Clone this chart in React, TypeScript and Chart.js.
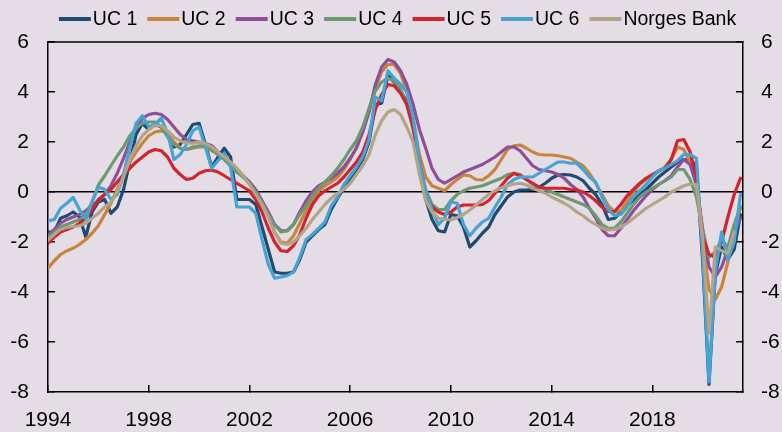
import React, { useEffect, useRef } from "react";
import { Chart, registerables } from "chart.js";

Chart.register(...registerables);

// ---------- data ----------
const START_YEAR = 1994; // first quarter 1994Q1, quarterly steps
const X_MIN = 1994;
const X_MAX = 2021.6;
const xTickYears = [1994, 1998, 2002, 2006, 2010, 2014, 2018];
const yTickValues = [-8, -6, -4, -2, 0, 2, 4, 6];

const seriesNames = ["UC 1", "UC 2", "UC 3", "UC 4", "UC 5", "UC 6", "Norges Bank"];
const seriesColors = ["#1f4b70", "#c8843c", "#8e4f98", "#6c9873", "#d2232f", "#45a3d6", "#b3a488"];

const uc1 = [
  -1.6, -1.6, -1.05, -0.95, -0.8, -1.0, -1.8, -0.8, -0.4, -0.3, -0.85, -0.6, 0.1, 1.2, 2.3, 2.75,
  2.5, 2.7, 2.6, 2.4, 1.8, 1.9, 2.3, 2.7, 2.75, 1.9, 1.0, 1.4, 1.75, 1.4, -0.3, -0.3,
  -0.3, -0.5, -1.4, -2.3, -3.2, -3.25, -3.25, -3.2, -2.7, -2.0, -1.75, -1.5, -1.3, -0.7, -0.25, 0.15,
  0.55, 0.9, 1.3, 2.0, 3.5, 3.55, 4.65, 4.4, 4.05, 3.6, 2.7, 0.9, -0.3, -1.1, -1.55, -1.6,
  -0.9, -0.95, -1.4, -2.2, -1.95, -1.65, -1.4, -0.9, -0.55, -0.2, 0.0, 0.08, 0.08, 0.1, 0.2, 0.35,
  0.55, 0.68, 0.7, 0.68, 0.6, 0.45, 0.15, -0.1, -0.5, -1.1, -1.05, -0.8, -0.55, -0.3, -0.1, 0.1,
  0.35, 0.6, 0.8, 1.0, 1.2, 1.3, 1.3, 1.05, -2.8, -7.7, -3.3, -2.2, -2.7, -2.3, -0.9,
];
const uc2 = [
  -3.05, -2.75, -2.5, -2.35, -2.25, -2.1, -1.9, -1.65, -1.35, -0.9, -0.45, 0.1, 0.7, 1.2, 1.6, 1.95,
  2.25, 2.4, 2.45, 2.35, 2.0, 1.75, 1.7, 1.75, 1.8, 1.8, 1.65, 1.5, 1.35, 1.05, 0.8, 0.6,
  0.4, 0.05, -0.35, -0.95, -1.6, -2.0, -2.05, -1.75, -1.25, -0.75, -0.3, 0.05, 0.25, 0.4, 0.6, 0.9,
  1.3, 1.8, 2.5, 3.3, 4.15, 4.8, 5.1, 5.1, 4.75, 4.0, 2.9, 1.5, 0.6, 0.25, 0.15, 0.05,
  0.3, 0.5, 0.68, 0.65, 0.5, 0.48, 0.65, 0.9, 1.3, 1.7, 1.85, 1.88, 1.75, 1.6, 1.5, 1.48,
  1.48, 1.45, 1.4, 1.35, 1.2, 1.05, 0.75, 0.35, -0.1, -0.55, -0.8, -0.75, -0.4, 0.0, 0.3, 0.5,
  0.65, 0.8, 1.0, 1.3, 1.8, 1.7, 1.2, 0.3, -2.0, -3.9, -4.3, -3.8, -2.8, -1.5, -0.6,
];
const uc3 = [
  -1.75, -1.5, -1.25, -1.1, -1.0, -0.9, -0.75, -0.55, -0.35, -0.1, 0.25, 0.75, 1.35, 2.0, 2.6, 2.95,
  3.1, 3.15, 3.1, 2.9, 2.6, 2.3, 2.1, 2.05, 2.0, 1.95, 1.85, 1.6, 1.35, 1.1, 0.9, 0.65,
  0.4, 0.1, -0.35, -0.8, -1.3, -1.55, -1.55, -1.3, -0.8, -0.35, 0.0, 0.25, 0.4, 0.55, 0.75, 1.0,
  1.35, 1.75, 2.4, 3.2, 4.3, 5.0, 5.3, 5.2, 4.85, 4.3, 3.5, 2.5, 1.75, 0.95, 0.5, 0.35,
  0.5, 0.65, 0.8, 0.9, 1.0, 1.1, 1.25, 1.4, 1.6, 1.8, 1.8, 1.65, 1.35, 1.05, 0.9, 0.85,
  0.8, 0.7, 0.55, 0.3, 0.1, -0.2, -0.65, -1.05, -1.5, -1.75, -1.75, -1.45, -1.1, -0.75, -0.45, -0.15,
  0.1, 0.3, 0.45, 0.65, 1.0, 1.3, 1.1, 0.3, -1.5, -3.0, -3.4, -3.0, -2.3, -1.6, -1.05,
];
const uc4 = [
  -1.85, -1.6, -1.4, -1.3, -1.2, -1.1, -0.9, -0.4, 0.28, 0.65, 1.05, 1.45, 1.8, 2.25, 2.55, 2.75,
  2.8, 2.8, 2.6, 2.2, 1.9, 1.75, 1.7, 1.8, 1.85, 1.85, 1.7, 1.5, 1.3, 1.05, 0.8, 0.6,
  0.35, 0.0, -0.4, -0.9, -1.3, -1.6, -1.55, -1.3, -0.9, -0.55, -0.15, 0.15, 0.4, 0.65, 0.95, 1.3,
  1.7, 2.05, 2.6, 3.35, 4.05, 4.4, 4.55, 4.45, 4.1, 3.5, 2.5, 1.2, 0.1, -0.5, -0.7, -0.7,
  -0.35, -0.1, 0.05, 0.15, 0.2, 0.25, 0.35, 0.45, 0.55, 0.7, 0.75, 0.7, 0.5, 0.3, 0.2, 0.1,
  0.0, -0.1, -0.2, -0.3, -0.4, -0.5, -0.65, -0.95, -1.3, -1.45, -1.45, -1.2, -0.85, -0.5, -0.2, 0.0,
  0.15, 0.3, 0.45, 0.6, 0.9, 0.9, 0.5, -0.2, -1.5, -2.6, -2.4, -1.9, -2.2, -1.3, -0.6,
];
const uc5 = [
  -2.05, -1.8, -1.6, -1.5, -1.4, -1.25, -1.05, -0.7, -0.3, -0.1, 0.1, 0.4, 0.7, 0.95, 1.2, 1.4,
  1.6, 1.7, 1.65, 1.4, 0.95, 0.7, 0.5, 0.55, 0.75, 0.85, 0.88, 0.8, 0.65, 0.5, 0.35, 0.2,
  0.05, -0.3, -0.8, -1.45, -2.0, -2.35, -2.38, -2.15, -1.7, -1.05, -0.5, -0.15, 0.05, 0.2, 0.35, 0.6,
  0.9, 1.2, 1.6, 2.3, 3.3, 3.9, 4.3, 4.25, 3.95, 3.5, 2.6, 1.2, -0.1, -0.6, -0.8, -0.9,
  -0.8, -0.6, -0.52, -0.52, -0.52, -0.5, -0.35, -0.05, 0.25, 0.55, 0.75, 0.65, 0.5, 0.35, 0.2, 0.15,
  0.15, 0.15, 0.15, 0.1, 0.08, 0.0, -0.15, -0.35, -0.6, -0.78, -0.78, -0.5, -0.15, 0.1, 0.35, 0.55,
  0.7, 0.85, 0.95, 1.3, 2.05, 2.1, 1.6, 0.6, -1.8, -2.5, -2.6, -2.0, -1.0, -0.1, 0.55,
];
const uc6 = [
  -1.16, -1.1, -0.65, -0.45, -0.22, -0.7, -1.1, -0.4, 0.2, 0.1, -0.3, -0.1, 0.7, 1.8, 2.75, 3.05,
  2.6, 2.7, 2.95, 2.35, 1.3, 1.5, 1.9, 2.45, 2.6, 1.8, 0.95, 1.25, 1.55, 1.0, -0.6, -0.6,
  -0.6, -0.85, -1.9, -2.9, -3.45, -3.4, -3.35, -3.2, -2.6, -1.9, -1.7, -1.45, -1.2, -0.55, -0.2, 0.3,
  0.65, 1.0, 1.4, 2.1, 3.8, 3.65, 4.85, 4.55, 4.3, 4.0, 3.0, 1.2, 0.0, -0.7, -1.3, -1.05,
  -0.4, -0.45, -1.3, -1.75, -1.45, -1.2, -1.05, -0.6, -0.2, 0.3, 0.5, 0.6, 0.6, 0.6, 0.75, 0.9,
  1.05, 1.2, 1.2, 1.15, 1.15, 0.9, 0.6, 0.4, -0.2, -0.7, -0.95, -0.9, -0.6, -0.2, 0.05, 0.3,
  0.6, 0.85, 0.95, 1.1, 1.25, 1.5, 1.5, 1.35, -2.5, -7.6, -3.2, -1.6, -2.7, -2.0, -0.1,
];
const norgesBank = [
  -1.92, -1.7, -1.5, -1.42, -1.38, -1.35, -1.25, -1.05, -0.85, -0.6, -0.4, 0.0, 0.6, 1.3, 1.85, 2.25,
  2.5, 2.65, 2.65, 2.45, 2.2, 2.05, 1.95, 1.95, 2.0, 1.95, 1.8, 1.6, 1.4, 1.2, 0.95, 0.65,
  0.3, -0.1, -0.5, -1.0, -1.65, -2.05, -2.1, -2.0, -1.75, -1.45, -1.1, -0.8, -0.5, -0.25, -0.05, 0.1,
  0.35, 0.7, 1.05, 1.5, 2.3, 2.85, 3.2, 3.3, 3.1, 2.6, 2.0, 0.7, -0.35, -0.8, -1.05, -1.1,
  -1.12, -1.02, -0.9, -0.72, -0.52, -0.3, -0.1, 0.05, 0.17, 0.25, 0.32, 0.35, 0.28, 0.15, 0.05, -0.05,
  -0.2, -0.32, -0.45, -0.6, -0.8, -0.95, -1.15, -1.3, -1.45, -1.52, -1.5, -1.4, -1.25, -1.05, -0.85, -0.65,
  -0.5, -0.35, -0.2, 0.0, 0.12, 0.25, 0.32, 0.3, -1.8, -5.65, -2.2, -2.35, -2.45, -1.6, null,
];

const seriesValues = [uc1, uc2, uc3, uc4, uc5, uc6, norgesBank];

// ---------- style ----------
const BG = "#e5dde5";
const FONT = "'Liberation Sans', Arial, Helvetica, sans-serif";
const TICK_FONT_SIZE = 21;
const LEGEND_FONT_SIZE = 19.5;

function toPoints(values: (number | null)[]) {
  return values.map((v, i) => ({ x: START_YEAR + i / 4, y: v }));
}

const backgroundPlugin = {
  id: "bgFill",
  beforeDraw(chart: any) {
    const { ctx, width, height } = chart;
    ctx.save();
    ctx.fillStyle = BG;
    ctx.fillRect(0, 0, width, height);
    ctx.restore();
  },
};

const framePlugin = {
  id: "topFrame",
  afterDraw(chart: any) {
    const { ctx, chartArea } = chart;
    ctx.save();
    ctx.strokeStyle = "#000";
    ctx.lineWidth = 1.5;
    ctx.beginPath();
    ctx.moveTo(chartArea.left, chartArea.top);
    ctx.lineTo(chartArea.right, chartArea.top);
    ctx.stroke();
    ctx.restore();
  },
};

const legendPlugin = {
  id: "topLegend",
  afterDraw(chart: any) {
    const { ctx, chartArea } = chart;
    ctx.save();
    ctx.font = `${LEGEND_FONT_SIZE}px ${FONT}`;
    const lineLen = 32;
    const textGap = 2;
    const itemGap = 10;
    const items = chart.data.datasets.map((ds: any) => ({
      label: ds.label as string,
      color: ds.borderColor as string,
      w: ctx.measureText(ds.label).width,
    }));
    const total =
      items.reduce((s: number, it: any) => s + lineLen + textGap + it.w, 0) + itemGap * (items.length - 1);
    let x = (chartArea.left + chartArea.right) / 2 + 2 - total / 2;
    const lineY = 19;
    const baseY = 24.5;
    for (const it of items) {
      ctx.strokeStyle = it.color;
      ctx.lineWidth = 4;
      ctx.lineCap = "butt";
      ctx.beginPath();
      ctx.moveTo(x, lineY);
      ctx.lineTo(x + lineLen, lineY);
      ctx.stroke();
      ctx.fillStyle = "#000";
      ctx.textBaseline = "alphabetic";
      ctx.textAlign = "left";
      ctx.fillText(it.label, x + lineLen + textGap, baseY);
      x += lineLen + textGap + it.w + itemGap;
    }
    ctx.restore();
  },
};

export default function App() {
  const canvasRef = useRef<HTMLCanvasElement | null>(null);

  useEffect(() => {
    document.body.style.margin = "0";
    document.body.style.background = BG;
    const canvas = canvasRef.current;
    if (!canvas) return;

    const datasets = seriesValues.map((vals, i) => ({
      label: seriesNames[i],
      data: toPoints(vals),
      borderColor: seriesColors[i],
      backgroundColor: seriesColors[i],
      borderWidth: 3.2,
      pointRadius: 0,
      tension: 0,
      borderJoinStyle: "round" as const,
      borderCapStyle: "round" as const,
      spanGaps: false,
      yAxisID: "y",
      xAxisID: "x",
      order: seriesValues.length - i,
    }));

    const tickFont = { family: FONT, size: TICK_FONT_SIZE };

    const chart = new Chart(canvas, {
      type: "line",
      data: { datasets },
      plugins: [backgroundPlugin, framePlugin, legendPlugin],
      options: {
        animation: false,
        responsive: false,
        devicePixelRatio: 1,
        layout: { padding: { top: 42, left: 0, right: 0, bottom: 0 } },
        plugins: { legend: { display: false }, tooltip: { enabled: false } },
        scales: {
          x: {
            type: "linear",
            position: "bottom",
            min: X_MIN,
            max: X_MAX,
            afterBuildTicks: (s: any) => {
              s.ticks = xTickYears.map((v) => ({ value: v }));
            },
            afterFit: (s: any) => {
              s.height = 40;
            },
            grid: { drawOnChartArea: false, drawTicks: true, tickLength: -7, color: "#000", lineWidth: 1.5 },
            border: { display: true, color: "#000", width: 1.5 },
            ticks: {
              color: "#000",
              font: tickFont,
              padding: 23,
              maxRotation: 0,
              autoSkip: false,
              callback: (v: any) => String(v),
            },
          },
          y: {
            type: "linear",
            position: "left",
            min: -8,
            max: 6,
            afterBuildTicks: (s: any) => {
              s.ticks = yTickValues.map((v) => ({ value: v }));
            },
            afterFit: (s: any) => {
              s.width = 48;
            },
            grid: {
              drawOnChartArea: true,
              drawTicks: true,
              tickLength: -7,
              lineWidth: 1.5,
              color: (c: any) => (c.tick && c.tick.value === 0 ? "#000" : "rgba(0,0,0,0)"),
              tickColor: "#000",
            },
            border: { display: true, color: "#000", width: 1.5 },
            ticks: { color: "#000", font: tickFont, padding: 26, callback: (v: any) => String(v) },
          },
          y2: {
            type: "linear",
            position: "right",
            min: -8,
            max: 6,
            afterBuildTicks: (s: any) => {
              s.ticks = yTickValues.map((v) => ({ value: v }));
            },
            afterFit: (s: any) => {
              s.width = 39;
            },
            grid: { drawOnChartArea: false, drawTicks: true, tickLength: -7, lineWidth: 1.5, color: "#000" },
            border: { display: true, color: "#000", width: 1.5 },
            ticks: { color: "#000", font: tickFont, padding: 25, callback: (v: any) => String(v) },
          },
        },
      },
    } as any);

    return () => {
      chart.destroy();
    };
  }, []);

  return (
    <div style={{ width: 782, height: 432, background: BG }}>
      <canvas ref={canvasRef} width={782} height={432} style={{ display: "block" }} />
    </div>
  );
}
